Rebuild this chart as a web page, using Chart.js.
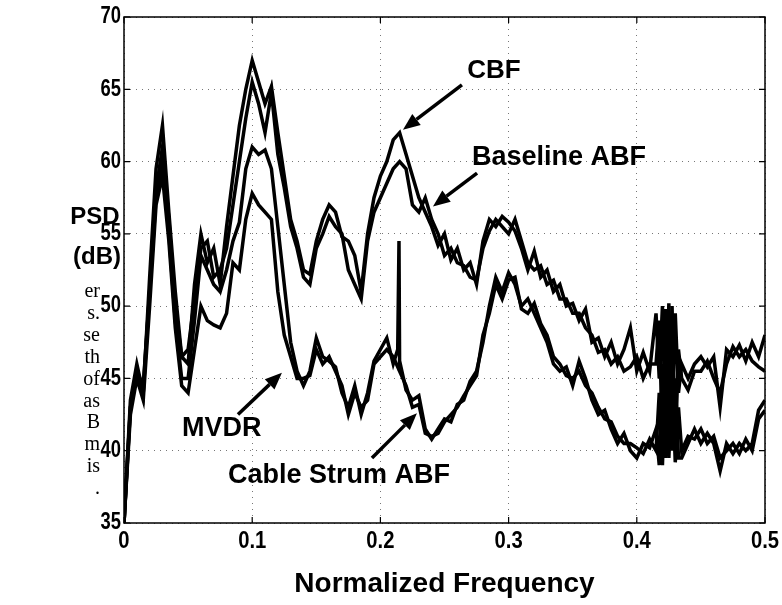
<!DOCTYPE html>
<html>
<head>
<meta charset="utf-8">
<title>PSD vs Normalized Frequency</title>
<script src="https://cdn.jsdelivr.net/npm/chart.js@4.4.1/dist/chart.umd.min.js"></script>
<style>
    html, body { margin: 0; padding: 0; background: #fff; }
    #wrap { width: 782px; height: 605px; }
</style>
</head>
<body>
<div id="wrap"><canvas id="psd-chart" width="782" height="605"></canvas></div>
<script>
// Normalized frequency grid (0 .. 0.5, step 0.005)
const freq = [
    0.000, 0.005, 0.010, 0.015, 0.020, 0.025, 0.030, 0.035, 0.040, 0.045,
    0.050, 0.055, 0.060, 0.065, 0.070, 0.075, 0.080, 0.085, 0.090, 0.095,
    0.100, 0.105, 0.110, 0.115, 0.120, 0.125, 0.130, 0.135, 0.140, 0.145,
    0.150, 0.155, 0.160, 0.165, 0.170, 0.175, 0.180, 0.185, 0.190, 0.195,
    0.200, 0.205, 0.210, 0.215, 0.220, 0.225, 0.230, 0.235, 0.240, 0.245,
    0.250, 0.255, 0.260, 0.265, 0.270, 0.275, 0.280, 0.285, 0.290, 0.295,
    0.300, 0.305, 0.310, 0.315, 0.320, 0.325, 0.330, 0.335, 0.340, 0.345,
    0.350, 0.355, 0.360, 0.365, 0.370, 0.375, 0.380, 0.385, 0.390, 0.395,
    0.400, 0.405, 0.410, 0.415, 0.420, 0.425, 0.430, 0.435, 0.440, 0.445,
    0.450, 0.455, 0.460, 0.465, 0.470, 0.475, 0.480, 0.485, 0.490, 0.495,
    0.500
];

// PSD in dB
const cbfPsd = [
    35, 43.5, 46, 44, 52, 59.5, 62.5, 56.5, 51, 46.5,
    46, 51.5, 55, 53, 54, 51.5, 55.5, 59, 62.5, 65,
    67, 65.5, 64, 65.2, 62, 59, 56, 54.5, 52.5, 52.2,
    54.5, 56, 57, 56.5, 54.8, 54.5, 53.5, 51, 55, 57.5,
    59, 60, 61.5, 62, 60.5, 59, 57.5, 56.5, 55.5, 54.2,
    55, 53.2, 54, 52.5, 53, 51.5, 54.5, 56, 55.5, 56.2,
    55.8, 55.2, 54, 52.5, 53.8, 52, 52.5, 51, 51.5, 50,
    50.2, 49, 49.8, 47.5, 47.8, 46.5, 47.5, 46, 47, 48.5,
    45.5, 46.8, 45.5, 49.5, 50, 50.2, 49.5, 46, 45, 46,
    46.5, 45.8, 46.5, 43, 47, 46.5, 47.3, 46.2, 47.5, 46.5,
    48
];
const baselinePsd = [
    35, 43, 45.5, 44.5, 51, 58, 61, 56, 50, 46.5,
    47, 50.5, 54, 54.5, 52, 52.5, 54, 57, 60, 63,
    65.5, 64, 62, 64.8, 60.5, 58.2, 55.5, 54, 52, 51.5,
    54, 55, 56.2, 55.5, 55, 52.5, 51.5, 50.5, 54.5, 56.5,
    57.5, 58.5, 59.5, 60, 59.5, 57, 56.5, 57.5, 56, 55,
    53.5, 54, 53, 52.8, 52, 51.8, 54, 55.2, 56, 55.5,
    55, 56, 54.5, 53, 52.5, 52.8, 51.5, 51.8, 50.5, 50.5,
    49.5, 49.5, 48.5, 48, 46.8, 47, 46, 46.5, 45.5, 45.8,
    46.5, 45, 46, 46, 40.5, 41, 40, 45, 44.2, 45.5,
    45.5, 46.2, 45, 44, 46, 47.2, 46.5, 47, 46.2, 45.8,
    45.5
];
const mvdrPsd = [
    35, 43, 45.5, 44, 51, 57.5, 59.8, 55, 49, 45,
    45, 49, 53.5, 52.5, 51.5, 51, 52.5, 54.5, 55.8, 59.5,
    61, 60.5, 60.8, 59.5, 55.5, 51.5, 47.5, 45.5, 44.5, 45.5,
    47.8, 46.5, 46.2, 45.8, 44, 43, 44.5, 42.5, 44, 46.2,
    47, 47.8, 46, 45.5, 44.2, 43.5, 43.8, 41.5, 40.8, 41.5,
    42.2, 42, 43.2, 43.5, 44.8, 45.5, 47.5, 50, 52, 51,
    52.3, 51.5, 50, 50.5, 49.5, 48.5, 47.5, 46, 45.5, 45.8,
    44.5, 46.2, 45, 43.5, 42.5, 42.8, 41.5, 40.5, 41.2, 40,
    39.5, 40.5, 40.2, 41.5, 46, 47, 45, 39.5, 40.5, 41.5,
    40.5, 41.2, 40.5, 38.6, 40.5, 39.8, 40.5, 40, 40.5, 42.8,
    43.5
];
const strumPsd = [
    35, 42.5, 45, 43.5, 50, 57, 59, 54.5, 48.5, 44.5,
    44, 47, 50, 49, 48.7, 48.5, 49.5, 53, 52.5, 56,
    57.8, 57, 56.5, 56, 51, 48, 46.5, 45, 45, 45.2,
    47, 46, 46.5, 45.5, 44.5, 42.5, 44, 43, 43.5, 46,
    46.5, 47, 46.5, 45.5, 44.5, 43, 43.2, 41.2, 41, 41.2,
    42, 42.5, 43, 43.8, 44.5, 45.2, 48, 49.5, 51.5, 50.5,
    51.8, 52, 49.8, 49.5, 50.2, 48.8, 48, 46.5, 46, 45.2,
    45, 45.5, 44.5, 44, 43, 42.2, 42, 41, 40.5, 40.5,
    40.2, 39.8, 40.8, 40, 39, 39.5, 39.2, 40, 41, 40.8,
    41.5, 40.5, 41, 39.5, 40, 40.5, 39.8, 40.8, 40, 42.2,
    42.8
];

// narrow strum spike in the MVDR trace
const spikeFreq = [0.2135, 0.2145, 0.2155];
const spikePsd = [47, 54.5, 46];

// dense swings around 0.42-0.43 where all traces break up
const burstFreq = [0.4175, 0.4225, 0.4275, 0.4325];
const cbfBurst = [45, 41, 42, 44];
const baselineBurst = [49, 49.8, 50, 47];
const mvdrBurst = [39, 39.5, 40, 39.5];
const strumBurst = [44, 46, 45, 43];

const xTickValues = [0, 0.1, 0.2, 0.3, 0.4, 0.5];
const yTickValues = [35, 40, 45, 50, 55, 60, 65, 70];

// cut-off paragraph at the left edge of the scan
const sideText = ["er", "s.", "se", "th", "of", "as", "B", "m", "is", "."];

function toPoints(xs, ys) {
    return xs.map((x, i) => ({ x: x, y: ys[i] }));
}

function mergePoints() {
    let pts = [];
    for (let i = 0; i < arguments.length; i += 2) {
        pts = pts.concat(toPoints(arguments[i], arguments[i + 1]));
    }
    return pts.sort((a, b) => a.x - b.x);
}

const sans = "'Liberation Sans', Arial, Helvetica, sans-serif";

function drawArrow(ctx, x1, y1, x2, y2) {
    const ang = Math.atan2(y2 - y1, x2 - x1);
    const len = 17, half = 7;
    const bx = x2 - len * Math.cos(ang), by = y2 - len * Math.sin(ang);
    ctx.beginPath();
    ctx.moveTo(x1, y1);
    ctx.lineTo(bx, by);
    ctx.lineWidth = 3.5;
    ctx.stroke();
    ctx.beginPath();
    ctx.moveTo(x2, y2);
    ctx.lineTo(bx + half * Math.sin(ang), by - half * Math.cos(ang));
    ctx.lineTo(bx - half * Math.sin(ang), by + half * Math.cos(ang));
    ctx.closePath();
    ctx.fill();
}

// tick labels are condensed in the original, so squeeze them horizontally
function squeezedText(ctx, text, x, y, sx) {
    ctx.save();
    ctx.translate(x, y);
    ctx.scale(sx, 1);
    ctx.fillText(text, 0, 0);
    ctx.restore();
}

const decorations = {
    id: 'decorations',
    afterDraw(chart) {
        const { ctx, chartArea: a, scales } = chart;
        const x = scales.x, y = scales.y;
        ctx.save();
        ctx.strokeStyle = '#000';
        ctx.fillStyle = '#000';

        // axes box
        ctx.lineWidth = 1.5;
        ctx.strokeRect(a.left, a.top, a.right - a.left, a.bottom - a.top);

        // inward ticks on all four sides
        ctx.lineWidth = 1.2;
        ctx.beginPath();
        xTickValues.forEach(v => {
            const px = x.getPixelForValue(v);
            ctx.moveTo(px, a.bottom); ctx.lineTo(px, a.bottom - 6);
            ctx.moveTo(px, a.top); ctx.lineTo(px, a.top + 6);
        });
        yTickValues.forEach(v => {
            const py = y.getPixelForValue(v);
            ctx.moveTo(a.left, py); ctx.lineTo(a.left + 6, py);
            ctx.moveTo(a.right, py); ctx.lineTo(a.right - 6, py);
        });
        ctx.stroke();

        // tick labels
        ctx.font = "bold 23px " + sans;
        ctx.textAlign = 'center';
        ctx.textBaseline = 'top';
        xTickValues.forEach(v => {
            squeezedText(ctx, v === 0 ? '0' : v.toFixed(1), x.getPixelForValue(v), a.bottom + 7, 0.88);
        });
        ctx.textAlign = 'right';
        ctx.textBaseline = 'middle';
        yTickValues.forEach(v => {
            squeezedText(ctx, String(v), a.left - 3, y.getPixelForValue(v), 0.8);
        });

        // curve labels and arrows
        const px = v => x.getPixelForValue(v);
        const py = v => y.getPixelForValue(v);
        ctx.textBaseline = 'middle';
        ctx.font = "bold 26px " + sans;
        ctx.textAlign = 'center';
        ctx.fillText("CBF", px(0.2886), py(66.3));
        ctx.font = "bold 27px " + sans;
        ctx.textAlign = 'left';
        ctx.fillText("Baseline ABF", px(0.2715), py(60.3));
        ctx.fillText("MVDR", px(0.0452), py(41.5));
        ctx.fillText("Cable Strum ABF", px(0.0811), py(38.3));

        drawArrow(ctx, px(0.2636), py(65.3), px(0.2176), py(62.2));
        drawArrow(ctx, px(0.2754), py(59.2), px(0.2410), py(56.9));
        drawArrow(ctx, px(0.0889), py(42.5), px(0.1232), py(45.4));
        drawArrow(ctx, px(0.1934), py(39.5), px(0.2285), py(42.6));

        // axis titles
        ctx.textBaseline = 'alphabetic';
        ctx.textAlign = 'center';
        ctx.font = "bold 28px " + sans;
        ctx.fillText("Normalized Frequency", (a.left + a.right) / 2, 592);
        ctx.font = "bold 24px " + sans;
        ctx.fillText("PSD", 95, 224);
        ctx.fillText("(dB)", 97, 264);

        // paragraph fragments
        ctx.textAlign = 'right';
        ctx.font = "20px 'Liberation Serif', 'Times New Roman', serif";
        sideText.forEach((t, i) => {
            ctx.fillText(t, 100, 297 + i * 21.9);
        });
        ctx.restore();
    }
};

document.addEventListener("DOMContentLoaded", function() {
    const ctx = document.getElementById('psd-chart').getContext('2d');
    const lineStyle = {
        borderColor: '#000',
        borderWidth: 3.5,
        pointRadius: 0,
        tension: 0,
        fill: false
    };
    const gridStyle = {
        color: '#777',
        lineWidth: 1,
        tickLength: 0,
        drawTicks: false
    };

    new Chart(ctx, {
        type: 'line',
        data: {
            datasets: [
                Object.assign({ label: 'CBF', data: mergePoints(freq, cbfPsd, burstFreq, cbfBurst) }, lineStyle),
                Object.assign({ label: 'Baseline ABF', data: mergePoints(freq, baselinePsd, burstFreq, baselineBurst) }, lineStyle),
                Object.assign({ label: 'MVDR', data: mergePoints(freq, mvdrPsd, spikeFreq, spikePsd, burstFreq, mvdrBurst) }, lineStyle),
                Object.assign({ label: 'Cable Strum ABF', data: mergePoints(freq, strumPsd, burstFreq, strumBurst) }, lineStyle)
            ]
        },
        options: {
            responsive: false,
            animation: false,
            devicePixelRatio: 1,
            layout: { padding: { top: 17, right: 17, left: 0, bottom: 0 } },
            plugins: {
                legend: { display: false },
                tooltip: { enabled: false }
            },
            scales: {
                x: {
                    type: 'linear',
                    min: 0,
                    max: 0.5,
                    afterFit: s => { s.height = 82; },
                    afterBuildTicks: s => { s.ticks = xTickValues.map(v => ({ value: v })); },
                    grid: gridStyle,
                    border: { display: false, dash: [1, 5] },
                    ticks: { display: false }
                },
                y: {
                    min: 35,
                    max: 70,
                    afterFit: s => { s.width = 124; },
                    afterBuildTicks: s => { s.ticks = yTickValues.map(v => ({ value: v })); },
                    grid: gridStyle,
                    border: { display: false, dash: [1, 5] },
                    ticks: { display: false }
                }
            }
        },
        plugins: [decorations]
    });
});
</script>
</body>
</html>
